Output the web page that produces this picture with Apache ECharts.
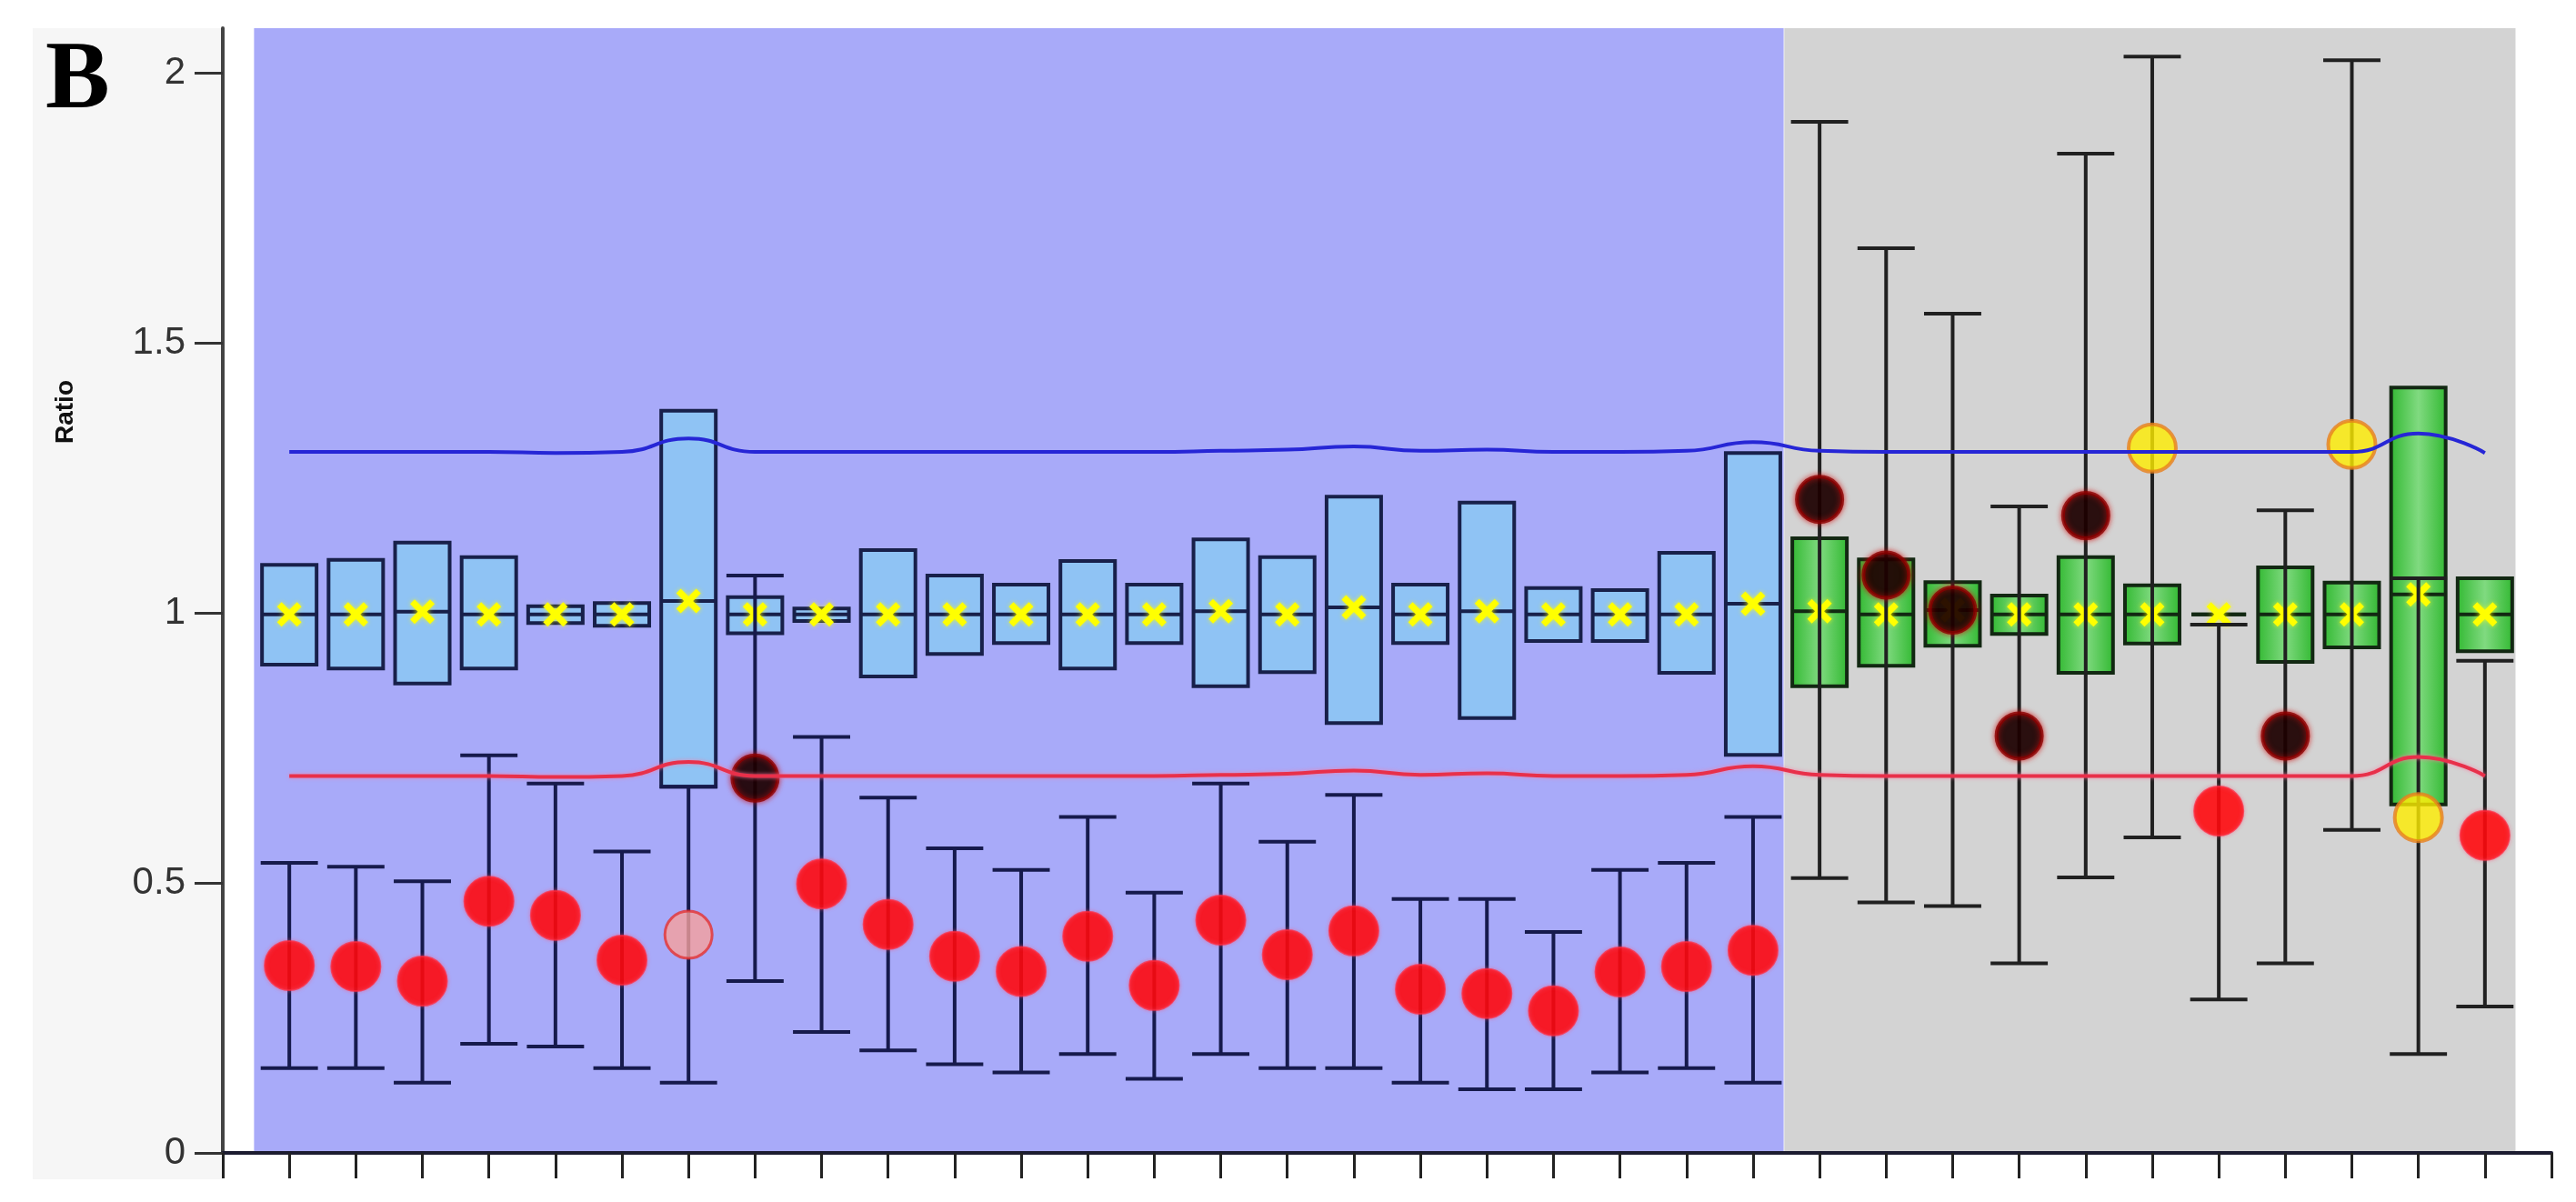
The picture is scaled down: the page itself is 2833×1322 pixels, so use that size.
<!DOCTYPE html>
<html>
<head>
<meta charset="utf-8">
<script src="https://cdn.jsdelivr.net/npm/echarts@6/dist/echarts.min.js"></script>
<style>
html,body{margin:0;padding:0;background:#ffffff;}
#chart{width:2833px;height:1322px;}
</style>
</head>
<body>
<div id="chart"></div>
<script>
// ---------------- DATA ----------------
const categories = [1,2,3,4,5,6,7,8,9,10,11,12,13,14,15,16,17,18,19,20,21,22,23,24,25,26,27,28,29,30,31,32,33,34];

// box (interquartile-like range) per category
const boxLow  = [0.904,0.897,0.869,0.897,0.981,0.976,0.678,0.962,0.985,0.882,0.924,0.944,0.897,0.944,0.864,0.890,0.796,0.944,0.805,0.948,0.948,0.889,0.737,
                 0.864,0.902,0.939,0.961,0.889,0.943,0.997,0.909,0.936,0.645,0.929];
const boxHigh = [1.089,1.098,1.130,1.103,1.012,1.018,1.374,1.029,1.008,1.116,1.069,1.052,1.096,1.052,1.136,1.103,1.215,1.052,1.204,1.046,1.042,1.111,1.296,
                 1.138,1.099,1.057,1.032,1.103,1.051,0.997,1.084,1.056,1.417,1.064];
const medianVal = [0.997,0.997,1.002,0.997,0.997,0.997,1.022,0.997,0.997,0.997,0.997,0.997,0.997,0.997,1.003,0.997,1.010,0.997,1.003,0.997,0.997,0.997,1.017,
                   1.003,0.997,1.005,0.997,0.997,0.997,0.997,0.997,0.997,1.034,0.997];

// point estimate with error bar
const pointVal = [0.347,0.345,0.318,0.466,0.440,0.357,0.404,0.694,0.498,0.423,0.364,0.336,0.401,0.310,0.431,0.367,0.411,0.303,0.295,0.263,0.335,0.345,0.375,
                  1.210,1.070,1.005,0.772,1.180,1.305,0.633,0.772,1.312,0.621,0.588];
const errLow  = [0.157,0.157,0.130,0.202,0.197,0.157,0.130,0.318,0.224,0.190,0.164,0.149,0.183,0.137,0.183,0.157,0.157,0.130,0.118,0.118,0.149,0.157,0.130,
                 0.509,0.464,0.457,0.351,0.510,0.584,0.284,0.351,0.598,0.183,0.271];
const errHigh = [0.537,0.530,0.503,0.736,0.684,0.558,0.678,1.069,0.770,0.658,0.564,0.524,0.622,0.482,0.684,0.576,0.663,0.470,0.470,0.409,0.524,0.537,0.622,
                 1.909,1.675,1.554,1.197,1.850,2.030,0.978,1.190,2.023,1.064,0.911];
const pointType = ['red','red','red','red','red','red','pink','black','red','red','red','red','red','red','red','red','red','red','red','red','red','red','red',
                   'black','black','black','black','black','yellow','red','black','yellow','yellow','red'];

// limit curves
const upperLimit = [1.298,1.298,1.298,1.298,1.296,1.298,1.323,1.298,1.298,1.298,1.298,1.298,1.298,1.298,1.300,1.302,1.308,1.300,1.302,1.298,1.298,1.300,1.316,
                    1.300,1.298,1.298,1.298,1.298,1.298,1.298,1.298,1.298,1.332,1.296];
const lowerLimit = [0.698,0.698,0.698,0.698,0.696,0.698,0.724,0.698,0.698,0.698,0.698,0.698,0.698,0.698,0.700,0.702,0.708,0.700,0.703,0.698,0.698,0.700,0.716,
                    0.700,0.698,0.698,0.698,0.698,0.698,0.698,0.698,0.698,0.733,0.698];

// groups (shaded regions)
const groupFirst = [1, 24];
const groupLast  = [23, 34];

const yTicks = [0, 0.5, 1, 1.5, 2];
const yLabels = ['0', '0.5', '1', '1.5', '2'];

// ---------------- STYLE ----------------
const groupColors = ['#a8aaf9', '#d3d3d3'];
const padLeft = 0.53, padRight = 0.46;
const boxWidth = 0.82, capWidth = 0.86;
const pointStyles = {
  red:    {color:'#ff0000', borderColor:'rgba(255,40,60,0.9)', borderWidth:2, shadowColor:'rgba(255,80,120,0.6)', shadowBlur:4},
  pink:   {color:'#f5a09c', borderColor:'#e43232', borderWidth:3},
  black:  {color:'#000000', borderColor:'#8a0000', borderWidth:4, shadowColor:'rgba(210,0,0,0.8)', shadowBlur:6},
  yellow: {color:'#ffee00', borderColor:'#e8801c', borderWidth:4}
};
const pointSizes = {red:54, pink:52, black:50, yellow:52};
function groupOf(x){ for(let g=0; g<groupFirst.length; g++){ if(x>=groupFirst[g] && x<=groupLast[g]) return g; } return 0; }

const chart = echarts.init(document.getElementById('chart'), null, {renderer:'canvas'});

const bgSeries = {
  type:'custom', z:0, silent:true,
  data: groupFirst.map((f,i)=>[f, groupLast[i], i]),
  renderItem: function(params, api){
    const cs = params.coordSys;
    const a = api.coord([api.value(0)-padLeft, 0]);
    const b = api.coord([api.value(1)+padRight, 0]);
    return {type:'rect', shape:{x:a[0], y:cs.y, width:b[0]-a[0], height:cs.height},
            style:{fill: groupColors[api.value(2)]}};
  }
};

const boxSeries = {
  type:'custom', z:2, silent:true,
  data: categories.map((c,i)=>[c, boxLow[i], boxHigh[i], medianVal[i]]),
  renderItem: function(params, api){
    const x = api.value(0);
    const top = api.coord([x, api.value(2)]);
    const bot = api.coord([x, api.value(1)]);
    const med = api.coord([x, api.value(3)]);
    const w = api.size([boxWidth, 0])[0];
    const g = groupOf(x);
    const fill = g === 0 ? '#8fc3f4' : new echarts.graphic.LinearGradient(0,0,1,0,[
      {offset:0, color:'#30b830'},{offset:0.5, color:'#80da80'},{offset:1, color:'#30b830'}]);
    const stroke = g === 0 ? '#18204a' : '#122812';
    return {type:'group', children:[
      {type:'rect', shape:{x:top[0]-w/2, y:top[1], width:w, height:Math.max(bot[1]-top[1], 0)},
       style:{fill:fill, stroke:stroke, lineWidth:4}},
      {type:'line', shape:{x1:top[0]-w/2, y1:med[1], x2:top[0]+w/2, y2:med[1]},
       style:{stroke:stroke, lineWidth:4}}
    ]};
  }
};

const crossSeries = {
  type:'custom', z:3, silent:true,
  data: categories.map((c,i)=>[c, medianVal[i]]),
  renderItem: function(params, api){
    const p = api.coord([api.value(0), api.value(1)]);
    const s = 11;
    const st = {stroke:'#ffff00', lineWidth:7, shadowColor:'rgba(255,255,0,0.7)', shadowBlur:5};
    return {type:'group', children:[
      {type:'line', shape:{x1:p[0]-s, y1:p[1]-s, x2:p[0]+s, y2:p[1]+s}, style:st},
      {type:'line', shape:{x1:p[0]-s, y1:p[1]+s, x2:p[0]+s, y2:p[1]-s}, style:st}
    ]};
  }
};

const errSeries = {
  type:'custom', z:4, silent:true,
  data: categories.map((c,i)=>[c, errLow[i], errHigh[i]]),
  renderItem: function(params, api){
    const x = api.value(0);
    const lo = api.coord([x, api.value(1)]);
    const hi = api.coord([x, api.value(2)]);
    const w = api.size([capWidth, 0])[0];
    const col = groupOf(x) === 0 ? '#161a4c' : '#202020';
    const st = {stroke:col, lineWidth:4};
    return {type:'group', children:[
      {type:'line', shape:{x1:lo[0], y1:lo[1], x2:hi[0], y2:hi[1]}, style:st},
      {type:'line', shape:{x1:lo[0]-w/2, y1:lo[1], x2:lo[0]+w/2, y2:lo[1]}, style:st},
      {type:'line', shape:{x1:hi[0]-w/2, y1:hi[1], x2:hi[0]+w/2, y2:hi[1]}, style:st}
    ]};
  }
};

const pointSeries = {
  type:'scatter', z:5, silent:true, symbol:'circle',
  data: categories.map((c,i)=>({value:[c, pointVal[i]], symbolSize: pointSizes[pointType[i]], itemStyle: pointStyles[pointType[i]]}))
};

const upperSeries = {
  type:'line', z:6, silent:true, smooth:0.5, showSymbol:false,
  data: categories.map((c,i)=>[c, upperLimit[i]]),
  lineStyle:{color:'#2626d6', width:4}
};
const lowerSeries = {
  type:'line', z:6, silent:true, smooth:0.5, showSymbol:false,
  data: categories.map((c,i)=>[c, lowerLimit[i]]),
  lineStyle:{color:'#e8304a', width:4, shadowColor:'rgba(255,120,160,0.8)', shadowBlur:4}
};

const option = {
  animation:false,
  backgroundColor:'#ffffff',
  grid:{left:245, right:27, top:31, bottom:54, containLabel:false},
  xAxis:{
    type:'value', min:0, max:35, interval:1,
    axisLine:{show:true, lineStyle:{color:'#1c1c30', width:4}},
    axisTick:{show:true, inside:false, length:28, lineStyle:{color:'#222', width:3}},
    axisLabel:{show:false},
    splitLine:{show:false}
  },
  yAxis:{
    type:'value', min:0, max:2.0825,
    axisLine:{show:true, lineStyle:{color:'#444', width:4}},
    axisTick:{show:true, inside:false, length:31, lineStyle:{color:'#333', width:3}, customValues: yTicks},
    axisLabel:{show:true, margin:41, fontSize:42, color:'#333', fontFamily:'"Liberation Sans", Arial, sans-serif',
      customValues: yTicks, formatter: function(v){ const i = yTicks.indexOf(v); return i >= 0 ? yLabels[i] : ''; }},
    splitLine:{show:false}
  },
  graphic:[
    {type:'rect', z:-10, shape:{x:36, y:31, width:209, height:1266}, style:{fill:'#f6f6f6'}},
    {type:'text', x:50, y:38, style:{text:'B', font:'bold 106px "Liberation Serif", "Times New Roman", serif', fill:'#000'}},
    {type:'text', x:72, y:453, rotation:Math.PI/2,
     style:{text:'Ratio', font:'bold 28px "Liberation Sans", Arial, sans-serif', fill:'#111', textAlign:'center', textVerticalAlign:'middle'}}
  ],
  series:[bgSeries, boxSeries, crossSeries, errSeries, pointSeries, upperSeries, lowerSeries]
};
chart.setOption(option);
</script>
</body>
</html>
